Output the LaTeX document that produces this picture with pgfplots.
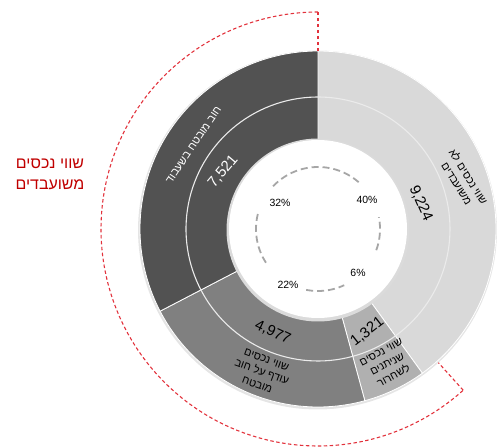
\documentclass[border=0pt]{standalone}
\usepackage{pgfplots}
\pgfplotsset{compat=1.18}
\usepackage{pgfplotstable}
\usepackage{fontspec}
\setmainfont{Liberation Sans}
\newfontfamily\hebfont[Script=Hebrew]{Liberation Sans}
\TeXXeTstate=1
\definecolor{cA}{HTML}{D9D9D9}
\definecolor{cB}{HTML}{B0B0B0}
\definecolor{cC}{HTML}{808080}
\definecolor{cD}{HTML}{525252}
\definecolor{redlbl}{HTML}{C00000}
\definecolor{redline}{HTML}{E2323C}
\definecolor{dashgray}{HTML}{A6A6A6}

% segments clockwise from 12 o'clock
\pgfplotstableread{
id value pct
A 9224 40
B 1321 6
C 4977 22
D 7521 32
}\data

\begin{document}
\begin{tikzpicture}
\pgfplotstablegetelem{0}{value}\of\data \edef\vA{\pgfplotsretval}
\pgfplotstablegetelem{1}{value}\of\data \edef\vB{\pgfplotsretval}
\pgfplotstablegetelem{2}{value}\of\data \edef\vC{\pgfplotsretval}
\pgfplotstablegetelem{3}{value}\of\data \edef\vD{\pgfplotsretval}
\pgfplotstablegetelem{0}{pct}\of\data \edef\pA{\pgfplotsretval}
\pgfplotstablegetelem{1}{pct}\of\data \edef\pB{\pgfplotsretval}
\pgfplotstablegetelem{2}{pct}\of\data \edef\pC{\pgfplotsretval}
\pgfplotstablegetelem{3}{pct}\of\data \edef\pD{\pgfplotsretval}
\pgfmathsetmacro\sA{\vA/1000}
\pgfmathsetmacro\sB{\vB/1000}
\pgfmathsetmacro\sC{\vC/1000}
\pgfmathsetmacro\sD{\vD/1000}
\pgfmathsetmacro\T{\sA+\sB+\sC+\sD}
\pgfmathsetmacro\aA{90}
\pgfmathsetmacro\aB{\aA-360*\sA/\T}
\pgfmathsetmacro\aC{\aB-360*\sB/\T}
\pgfmathsetmacro\aD{\aC-360*\sC/\T}
\pgfmathsetmacro\aE{\aD-360*\sD/\T}
\pgfmathsetmacro\mB{(\aB+\aC)/2}
\pgfmathsetmacro\mC{(\aC+\aD)/2}
\pgfmathsetmacro\mD{(\aD+\aE)/2}
\begin{axis}[hide axis, scale only axis, width=504bp, height=447bp,
  xmin=-318, xmax=186, ymin=-218, ymax=229, clip=false]
\path (rel axis cs:0,0) rectangle (rel axis cs:1,1);
% soft outer shadow
\addplot[fill=black!10, draw=none, domain=0:360, samples=150, variable=\t] ({179.5*cos(\t)-0.5},{179.5*sin(\t)-1}) -- cycle;
% outer wedges
\addplot[fill=cA, draw=white, line width=0.8pt, domain=\aB:\aA, samples=90, variable=\t] ({178*cos(\t)},{178*sin(\t)}) -- (axis cs:0,0) -- cycle;
\addplot[fill=cB, draw=white, line width=0.8pt, domain=\aC:\aB, samples=30, variable=\t] ({178*cos(\t)},{178*sin(\t)}) -- (axis cs:0,0) -- cycle;
\addplot[fill=cC, draw=white, line width=0.8pt, domain=\aD:\aC, samples=60, variable=\t] ({178*cos(\t)},{178*sin(\t)}) -- (axis cs:0,0) -- cycle;
\addplot[fill=cD, draw=white, line width=0.8pt, domain=\aE:\aD, samples=80, variable=\t] ({178*cos(\t)},{178*sin(\t)}) -- (axis cs:0,0) -- cycle;
% ring separator
\addplot[draw=white!92!black, line width=1.1pt, domain=0:360, samples=150, variable=\t] ({132*cos(\t)},{132*sin(\t)});
% inner hole with soft shadow
\addplot[fill=black!14, draw=none, domain=0:360, samples=150, variable=\t] ({91.5*cos(\t)},{91.5*sin(\t)-1}) -- cycle;
\addplot[fill=white, draw=none, domain=0:360, samples=150, variable=\t] ({89*cos(\t)},{89*sin(\t)}) -- cycle;
% dashed inner circle arcs
\addplot[dashgray, line width=1.8pt, dash pattern=on 7pt off 4pt, domain=49:139, samples=40, variable=\t] ({62*cos(\t)},{62*sin(\t)});
\addplot[dashgray, line width=1.8pt, dash pattern=on 7pt off 4pt, domain=166:214, samples=30, variable=\t] ({62*cos(\t)},{62*sin(\t)});
\addplot[dashgray, line width=1.8pt, dash pattern=on 7pt off 4pt, domain=259:295, samples=30, variable=\t] ({62*cos(\t)},{62*sin(\t)});
\addplot[dashgray, line width=1.8pt, dash pattern=on 7pt off 4pt, domain=-20:11, samples=30, variable=\t] ({62*cos(\t)},{62*sin(\t)});
% percentages
\node[font=\fontsize{10.5}{12}\selectfont] at (axis cs:49,29) {\pA\%};
\node[font=\fontsize{10.5}{12}\selectfont] at (axis cs:40,-44) {\pB\%};
\node[font=\fontsize{10.5}{12}\selectfont] at (axis cs:-30,-56) {\pC\%};
\node[font=\fontsize{10.5}{12}\selectfont] at (axis cs:-38,26) {\pD\%};
% values on inner ring
\node[rotate=-66, font=\fontsize{15}{17}\selectfont] at (axis cs:{106*cos(14)},{106*sin(14)}) {9,224};
\node[rotate=38, font=\fontsize{15}{17}\selectfont] at (axis cs:{114*cos(\mB)},{114*sin(\mB)}) {1,321};
\node[rotate=-25, font=\fontsize{15}{17}\selectfont] at (axis cs:{113*cos(\mC)},{113*sin(\mC)}) {4,977};
\node[rotate=50, text=white, font=\fontsize{15}{17}\selectfont] at (axis cs:{111*cos(\mD)},{111*sin(\mD)}) {7,521};
% names on outer ring
\node[rotate=-58, align=center, font=\hebfont\fontsize{11}{13.5}\selectfont] at (axis cs:{153*cos(18.7)},{153*sin(18.7)}) {\beginR שווי נכסים לא\endR\\\beginR משועבדים\endR};
\node[rotate=28, align=center, font=\hebfont\fontsize{11}{13.5}\selectfont] at (axis cs:{152*cos(-62.8)},{152*sin(-62.8)}) {\beginR שווי נכסים\endR\\\beginR שניתנים\endR\\\beginR לשחרור\endR};
\node[rotate=-20, align=center, font=\hebfont\fontsize{11}{13.5}\selectfont] at (axis cs:{154*cos(248.6)},{154*sin(248.6)}) {\beginR שווי נכסים\endR\\\beginR עודף על חוב\endR\\\beginR מובטח\endR};
\node[rotate=56, text=white, font=\hebfont\fontsize{11}{13.5}\selectfont] at (axis cs:{150*cos(146)},{150*sin(146)}) {\beginR חוב מובטח בשעבוד\endR};
% red bracket
\addplot[redline, line width=1.1pt, dash pattern=on 3.5pt off 2.5pt] coordinates {(0,178) (0,217)};
\addplot[redline, line width=1.1pt, dash pattern=on 3.5pt off 2.5pt, domain=90:312, samples=150, variable=\t] ({217*cos(\t)},{217*sin(\t)});
\addplot[redline, line width=1.1pt, dash pattern=on 3.5pt off 2.5pt] coordinates {({217*cos(312)},{217*sin(312)}) ({180*cos(312)},{180*sin(312)})};
\node[text=redlbl, align=center, font=\hebfont\fontsize{16}{21}\selectfont] at (axis cs:-268,55) {\beginR שווי נכסים\endR\\\beginR משועבדים\endR};
\end{axis}
\end{tikzpicture}
\end{document}
